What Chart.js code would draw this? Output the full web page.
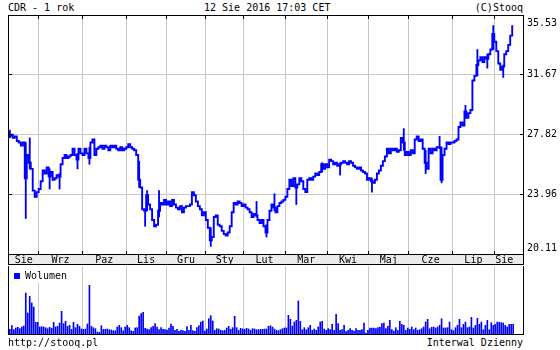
<!DOCTYPE html>
<html><head><meta charset="utf-8">
<script src="https://cdn.jsdelivr.net/npm/chart.js@4.4.1/dist/chart.umd.min.js"></script>
<style>
html,body{margin:0;padding:0;background:#fff;}
#wrap{position:relative;width:560px;height:350px;overflow:hidden;font-family:'DejaVu Sans Mono',monospace;font-size:10px;color:#000;}
canvas{position:absolute;left:0;}
.t{position:absolute;line-height:12px;white-space:pre;}
#leg{position:absolute;left:9px;top:267px;width:61px;height:16px;background:#fff;}
#leg .sq{position:absolute;left:5px;top:6px;width:6px;height:6px;background:#0000ff;}
#leg .lt{position:absolute;left:16px;top:3px;line-height:12px;white-space:pre;}
</style></head><body>
<div id="wrap">
<div class="t" style="left:8px;top:2px">CDR - 1 rok</div>
<div class="t" style="left:204px;top:2px">12 Sie 2016 17:03 CET</div>
<div class="t" style="right:37px;top:2px">(C)Stooq</div>
<canvas id="price" width="560" height="266" style="top:0;width:560px;height:266px"></canvas>
<canvas id="vol" width="560" height="69" style="top:266px;width:560px;height:69px"></canvas>
<div id="leg"><div class="sq"></div><div class="lt">Wolumen</div></div>
<div class="t" style="left:8px;top:337px">http://stooq.pl</div>
<div class="t" style="right:37px;top:337px">Interwal Dzienny</div>
</div>
<script>
// ---- data ----
const monthLabels = ['Sie','Wrz','Paz','Lis','Gru','Sty','Lut','Mar','Kwi','Maj','Cze','Lip','Sie'];
const monthDays   = [15, 22, 22, 20, 20, 19, 21, 21, 21, 20, 22, 21, 10];
const priceTicks  = [20.11, 23.96, 27.82, 31.67, 35.53];

const closes = [
  27.7,27.8,27.6,27.7,27.4,27.3,27.1,27.3,25.0,26.5,26.0,25.6,24.2,23.8,24.1,
  24.3,24.8,25.5,25.3,25.7,25.1,25.4,24.9,25.0,25.2,25.1,25.9,26.3,26.5,26.3,26.4,26.5,26.9,26.5,26.2,26.9,26.6,
  26.5,26.9,26.6,26.3,27.3,27.5,26.5,26.9,27.0,27.1,26.9,27.1,27.0,26.8,27.1,27.0,27.1,26.9,26.8,27.0,26.8,26.9,
  27.0,27.2,27.0,26.9,26.8,26.5,24.9,24.4,23.0,22.9,23.9,23.3,23.0,22.3,21.9,22.0,22.9,23.4,23.3,23.6,
  23.3,23.5,23.2,23.6,23.3,23.1,23.0,23.2,22.8,23.1,23.2,23.2,23.3,24.1,23.9,23.5,23.2,23.0,22.6,22.8,
  22.3,21.8,21.0,21.2,22.5,22.6,22.0,21.9,21.6,21.4,21.3,21.5,21.9,22.8,23.4,23.3,23.5,23.4,23.2,
  23.3,23.1,23.0,22.8,22.5,22.7,22.6,22.3,22.1,22.3,21.9,21.5,22.3,22.9,23.3,23.1,22.8,23.2,23.4,23.5,23.6,
  23.8,24.3,24.9,24.5,25.0,24.4,24.6,25.0,24.8,24.3,24.1,24.9,25.0,24.9,25.1,25.3,25.2,25.4,25.9,25.6,25.9,
  25.7,26.2,26.1,25.9,26.0,25.8,25.9,26.0,26.1,26.0,25.9,26.1,26.0,25.8,25.7,25.6,25.7,25.5,25.4,25.3,24.9,
  25.0,24.8,24.7,24.9,25.3,25.5,25.8,26.1,26.4,26.9,26.6,26.9,26.8,26.9,26.7,26.8,27.6,27.3,26.5,26.7,
  26.5,26.8,26.6,27.5,27.7,27.4,27.5,26.9,26.0,25.6,26.9,26.6,26.9,26.8,27.0,27.0,24.9,26.5,26.9,27.3,27.2,27.3,
  27.3,27.4,27.5,28.3,28.6,28.4,29.3,28.9,29.2,29.4,31.3,31.6,32.3,32.6,32.8,32.5,32.8,32.7,33.0,33.3,34.3,
  33.8,33.2,32.4,32.0,32.2,33.0,33.2,33.6,34.2,34.8
];

// intraday extremes visible as wicks
const spikeDays  = [0,8,10,20,25,34,40,65,68,69,75,101,124,129,133,144,157,166,182,198,209,216,217,229,235,240,243,248];
const spikeLows  = [27.6,22.4,25.6,24.3,24.3,25.6,25.9,24.4,21.9,22.9,22.5,20.6,22.5,21.2,22.9,23.3,25.4,25.2,24.1,26.8,25.3,26.9,24.7,28.9,31.6,32.1,33.3,31.5];
const spikeHighs = [28.1,27.3,27.6,25.6,25.3,26.6,27.0,26.1,23.0,24.2,24.2,21.8,23.5,22.0,24.0,24.6,26.0,26.0,25.0,28.2,26.8,27.7,27.0,29.7,33.3,33.0,34.85,32.3];

// volume, thousand shares
const volumes = [
  235,415,215,300,335,265,350,400,2050,1050,1885,1550,1350,585,585,
  350,365,350,315,265,335,285,585,350,385,550,1135,515,635,385,435,235,585,315,485,385,250,
  235,250,500,2435,385,315,265,100,85,415,235,235,250,215,200,165,165,350,435,315,165,350,
  435,315,165,135,300,315,900,1015,1085,285,250,215,315,385,515,350,215,315,235,215,
  200,300,500,385,185,235,135,185,165,135,365,185,435,165,135,315,415,600,650,150,
  250,765,915,650,185,265,250,185,165,185,300,385,235,315,885,315,185,285,250,
  235,285,250,185,265,250,215,215,235,235,250,250,385,415,350,250,185,165,215,265,300,
  300,935,735,400,600,685,1650,635,215,315,215,315,435,185,250,185,350,600,635,250,185,
  265,215,485,185,985,515,185,215,435,115,185,265,185,150,265,185,185,215,550,50,185,
  300,300,300,265,315,350,515,550,265,385,685,215,150,315,185,635,485,435,185,300,
  235,350,215,300,185,215,265,350,600,735,265,335,350,300,350,435,765,300,300,315,600,215,
  165,315,435,735,315,485,600,315,350,835,300,435,785,485,600,215,435,685,215,565,435,
  485,600,585,565,550,435,350,485,485,485
];

// ---- derived structures ----
const X_MIN = -0.93, X_MAX = 257.93, VOL_MAX = 3400;
const monthStart = []; let acc = 0;
monthDays.forEach(d => { monthStart.push(acc); acc += d; });
const boundaryTicks = monthStart.slice(1).map(s => ({value: s - 0.5}));
const midTicks = monthStart.map((s, i) => ({value: s + (monthDays[i] - 1) / 2}));

const FONT = 'DejaVu Sans Mono';
const BLUE = '#0000ff';
const GRID = '#c8c8c8';

function alignPx(p) { return Math.round(p - 0.5) + 0.5; }

const framePlugin = {
  id: 'frame',
  beforeDraw(chart, args, o) {
    if (!o.band) return;
    const {ctx, chartArea: a} = chart;
    ctx.save();
    ctx.fillStyle = '#ebebeb';
    ctx.fillRect(a.left, a.bottom, a.right - a.left + 1, o.band);
    ctx.strokeStyle = '#000'; ctx.lineWidth = 1;
    ctx.beginPath();
    ctx.moveTo(a.left, a.bottom + o.band - 0.5); ctx.lineTo(a.right + 1, a.bottom + o.band - 0.5);
    ctx.moveTo(a.left + 0.5, a.bottom); ctx.lineTo(a.left + 0.5, a.bottom + o.band);
    ctx.moveTo(a.right + 0.5, a.bottom); ctx.lineTo(a.right + 0.5, a.bottom + o.band);
    ctx.stroke();
    ctx.restore();
  },
  afterDraw(chart, args, o) {
    const {ctx, chartArea: a} = chart;
    const L = a.left + 0.5, R = a.right + 0.5, T = a.top + 0.5, B = a.bottom + 0.5;
    ctx.save();
    ctx.strokeStyle = '#000'; ctx.lineWidth = 1;
    ctx.beginPath();
    if (o.top) { ctx.moveTo(L - 0.5, T); ctx.lineTo(R + 0.5, T); }
    ctx.moveTo(L - 0.5, B); ctx.lineTo(R + 0.5, B);
    ctx.moveTo(L, a.top); ctx.lineTo(L, B);
    ctx.moveTo(R, a.top); ctx.lineTo(R, B);
    if (o.ticks) {
      const xs = chart.scales.x;
      xs.ticks.forEach(t => {
        const p = alignPx(xs.getPixelForValue(t.value));
        ctx.moveTo(p, a.top); ctx.lineTo(p, a.top + 4);
        ctx.moveTo(p, a.bottom - 3); ctx.lineTo(p, a.bottom + 1);
      });
      const ys = chart.scales.y;
      ys.ticks.forEach(t => {
        const p = alignPx(ys.getPixelForValue(t.value));
        ctx.moveTo(a.left, p); ctx.lineTo(a.left + 4, p);
        ctx.moveTo(a.right - 3, p); ctx.lineTo(a.right + 1, p);
      });
    }
    ctx.stroke();
    ctx.restore();
  }
};

const xGrid = {
  type: 'linear', min: X_MIN, max: X_MAX, position: 'bottom', offset: false,
  grid: {color: GRID, drawTicks: false, offset: false},
  border: {display: false},
  ticks: {display: false},
  afterBuildTicks: s => { s.ticks = boundaryTicks.map(t => ({value: t.value})); },
  afterFit: s => { s.height = 0; s.paddingLeft = 0; s.paddingRight = 0; }
};

new Chart(document.getElementById('price'), {
  type: 'line',
  data: {
    datasets: [
      {
        type: 'bar',
        data: spikeDays.map((d, i) => ({x: d, y: [spikeLows[i], spikeHighs[i]]})),
        backgroundColor: BLUE, borderWidth: 0, barThickness: 1.2, order: 2
      },
      {
        type: 'line',
        data: closes.map((c, i) => ({x: i, y: c})),
        borderColor: BLUE, borderWidth: 1.9, stepped: 'middle',
        pointRadius: 0, fill: false, order: 1
      }
    ]
  },
  options: {
    responsive: false, animation: false, devicePixelRatio: 1,
    layout: {padding: {left: 8, top: 15, right: 0, bottom: 0}},
    plugins: {legend: {display: false}, tooltip: {enabled: false},
      frame: {band: 11, top: true, ticks: true}},
    scales: {
      x: xGrid,
      xm: {
        type: 'linear', min: X_MIN, max: X_MAX, position: 'bottom', offset: false,
        grid: {display: false, drawTicks: false, offset: false},
        border: {display: false},
        ticks: {color: '#000', padding: 0, autoSkip: false, maxRotation: 0, minRotation: 0,
          font: {family: FONT, size: 10, lineHeight: 1.2},
          callback: (v, i) => monthLabels[i]},
        afterBuildTicks: s => { s.ticks = midTicks.map(t => ({value: t.value})); },
        afterFit: s => { s.height = 12; s.paddingLeft = 0; s.paddingRight = 0; }
      },
      y: {
        type: 'linear', position: 'right', min: priceTicks[0], max: priceTicks[priceTicks.length - 1],
        grid: {color: GRID, drawTicks: false},
        border: {display: false},
        ticks: {
          color: '#000', padding: 4,
          font: c => ({family: FONT, size: 10, lineHeight: c.index === priceTicks.length - 1 ? 1.64 : 1.2}),
          callback: (v, i) => {
            const s = priceTicks[i].toFixed(2);
            if (i === priceTicks.length - 1) return ['', s];
            if (i === 0) return [s, ''];
            return s;
          }
        },
        afterBuildTicks: s => { s.ticks = priceTicks.map(v => ({value: v})); },
        afterFit: s => { s.width = 37; s.paddingTop = 0; s.paddingBottom = 0; }
      }
    }
  },
  plugins: [framePlugin]
});

new Chart(document.getElementById('vol'), {
  type: 'bar',
  data: {
    datasets: [{
      label: 'Wolumen',
      data: volumes.map((v, i) => ({x: i, y: v})),
      backgroundColor: BLUE, borderWidth: 0, barThickness: 1
    }]
  },
  options: {
    responsive: false, animation: false, devicePixelRatio: 1,
    layout: {padding: {left: 8, top: 0, right: 37, bottom: 1}},
    plugins: {legend: {display: false}, tooltip: {enabled: false},
      frame: {band: 0, top: false, ticks: false}},
    scales: {
      x: xGrid,
      y: {type: 'linear', display: false, min: 0, max: VOL_MAX}
    }
  },
  plugins: [framePlugin]
});
</script>
</body></html>
